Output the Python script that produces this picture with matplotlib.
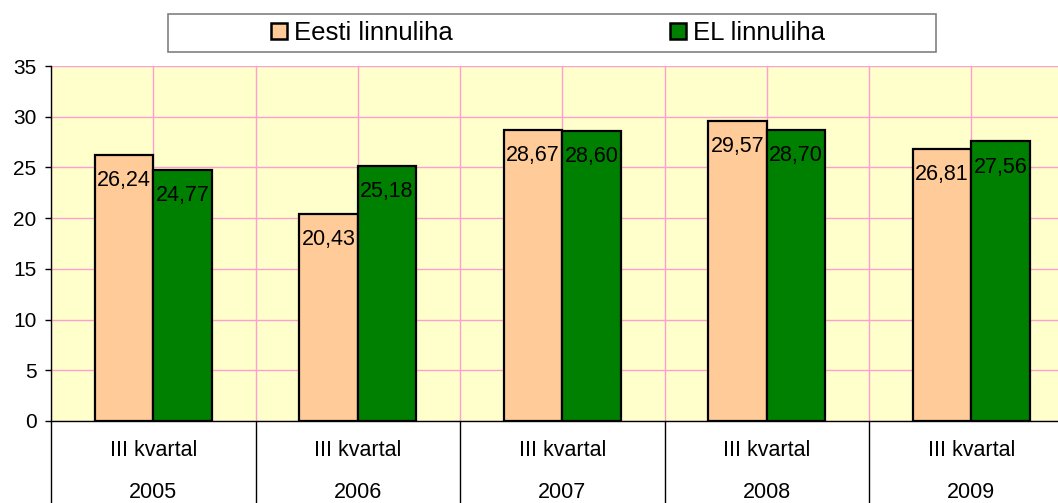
import matplotlib
matplotlib.use("Agg")
import matplotlib.pyplot as plt
from matplotlib.lines import Line2D
from matplotlib.patches import Rectangle
import numpy as np

plt.rcParams['font.family'] = ['Liberation Sans', 'DejaVu Sans']

quarters = ["III kvartal"] * 5
years = ["2005", "2006", "2007", "2008", "2009"]
eesti = [26.24, 20.43, 28.67, 29.57, 26.81]
el = [24.77, 25.18, 28.60, 28.70, 27.56]
series_names = ["Eesti linnuliha", "EL linnuliha"]

c_orange = "#FFCC99"
c_green = "#008000"
bg = "#FFFFCC"
grid_c = "#FF9FCF"

W, H = 1058, 503
fig = plt.figure(figsize=(W / 100, H / 100), dpi=100)
ax = fig.add_axes([51 / W, 82 / H, 1022.5 / W, 355 / H])
ax.set_facecolor(bg)

x = np.arange(len(years))
bw = 0.286
b1 = ax.bar(x - bw / 2, eesti, bw, color=c_orange, edgecolor="black", linewidth=1.6, zorder=3)
b2 = ax.bar(x + bw / 2, el, bw, color=c_green, edgecolor="black", linewidth=1.6, zorder=3)

def fmt(v):
    return f"{v:.2f}".replace(".", ",")

for bars, vals in ((b1, eesti), (b2, el)):
    for r, v in zip(bars, vals):
        ax.annotate(fmt(v), (r.get_x() + r.get_width() / 2, v), xytext=(0, -11),
                    textcoords="offset points", ha="center", va="top",
                    fontsize=15.5, zorder=4)

ax.set_xlim(-0.5, len(years) - 0.5)
ax.set_ylim(0, 35)
ax.set_yticks(np.arange(0, 36, 5))
ax.tick_params(axis="y", labelsize=15, length=4.5, width=1, pad=6)

ax.set_xticks(x)
ax.set_xticklabels([])
ax.set_xticks(np.arange(-0.5, len(years)), minor=True)
ax.tick_params(axis="x", which="major", length=0)
ax.tick_params(axis="x", which="minor", length=70, width=1, direction="out")

ax.grid(True, axis="y", color=grid_c, linewidth=1, zorder=0)
ax.grid(True, axis="x", which="both", color=grid_c, linewidth=1, zorder=0)
ax.set_axisbelow(True)

for s in ("top", "right"):
    ax.spines[s].set_visible(False)
ax.spines["left"].set_linewidth(1)
ax.spines["bottom"].set_linewidth(1)

for xi, q, yr in zip(x, quarters, years):
    ax.annotate(q, (xi, 0), xycoords=("data", "axes fraction"), xytext=(0, -21),
                textcoords="offset points", ha="center", va="center", fontsize=15.5)
    ax.annotate(yr, (xi, 0), xycoords=("data", "axes fraction"), xytext=(0, -51.5),
                textcoords="offset points", ha="center", va="center", fontsize=15.5)

# legend frame
fig.patches.append(Rectangle((168 / W, 1 - 52 / H), 768 / W, 38 / H, transform=fig.transFigure,
                             facecolor="white", edgecolor="#808080", linewidth=1.2, zorder=0))
handles = [Line2D([], [], marker="s", linestyle="none", markersize=12, markerfacecolor=c,
                  markeredgecolor="black", markeredgewidth=1.8) for c in (c_orange, c_green)]
fig.legend(handles, series_names, loc="center", bbox_to_anchor=(547 / W, 1 - 33 / H),
           ncol=2, frameon=False, fontsize=18.5, handlelength=0.75, handletextpad=0.2,
           columnspacing=8.4, borderpad=0)

fig.savefig("out.png", dpi=100)
